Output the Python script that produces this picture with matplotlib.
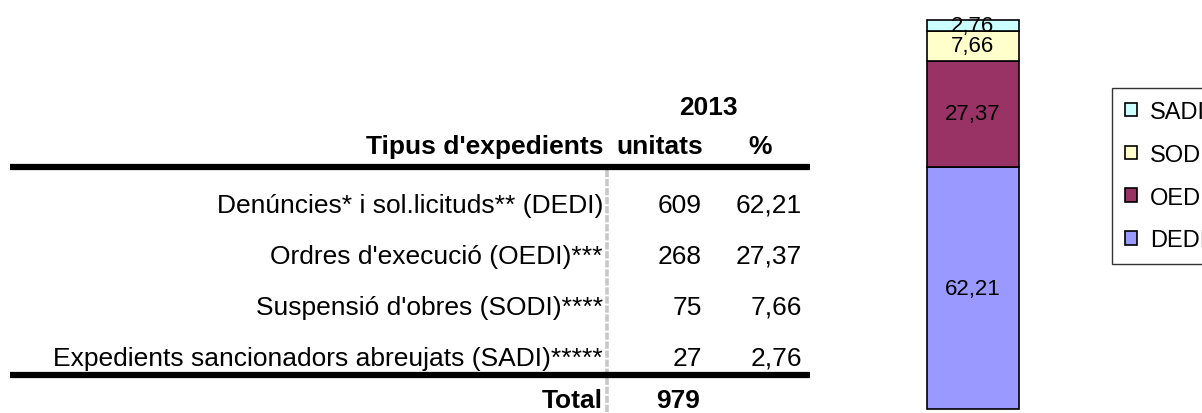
import matplotlib
matplotlib.use("Agg")
import matplotlib.pyplot as plt
from matplotlib.patches import Patch

plt.rcParams['font.family'] = ['Liberation Sans', 'DejaVu Sans']

# data
year = "2013"
tipus = ["Denúncies* i sol.licituds** (DEDI)",
         "Ordres d'execució (OEDI)***",
         "Suspensió d'obres (SODI)****",
         "Expedients sancionadors abreujats (SADI)*****"]
unitats = [609, 268, 75, 27]
percent = [62.21, 27.37, 7.66, 2.76]
total = 979
codes = ["DEDI", "OEDI", "SODI", "SADI"]
colors = ["#9999FF", "#993366", "#FFFFCC", "#CCFFFF"]

W, H = 1202, 414
fig = plt.figure(figsize=(W / 100, H / 100), dpi=100)

# table drawn in pixel space
ax = fig.add_axes([0, 0, 1, 1])
ax.set_xlim(0, W)
ax.set_ylim(H, 0)
ax.axis("off")

fs = 19
def fmt(v):
    return f"{v:.2f}".replace(".", ",")

ax.text(708, 115, year, ha="center", va="baseline", fontsize=fs, fontweight="bold")
ax.text(603, 154, "Tipus d'expedients", ha="right", va="baseline", fontsize=fs, fontweight="bold")
ax.text(660, 154, "unitats", ha="center", va="baseline", fontsize=fs, fontweight="bold")
ax.text(760, 154, "%", ha="center", va="baseline", fontsize=fs, fontweight="bold")
ax.plot([10, 810], [168, 168], color="black", lw=4.5, solid_capstyle="butt")

row_y = [213, 264, 315, 366]
for name, u, p, y in zip(tipus, unitats, percent, row_y):
    ax.text(603, y, name, ha="right", va="baseline", fontsize=fs)
    ax.text(702, y, str(u), ha="right", va="baseline", fontsize=fs)
    ax.text(802, y, fmt(p), ha="right", va="baseline", fontsize=fs)

ax.plot([10, 810], [376, 376], color="black", lw=4.5, solid_capstyle="butt")
ax.text(603, 408, "Total", ha="right", va="baseline", fontsize=fs, fontweight="bold")
ax.text(700, 408, str(total), ha="right", va="baseline", fontsize=fs, fontweight="bold")
ax.plot([607, 607], [171, H], color="#c8c8c8", lw=2.6, ls=(0, (2, 0.5)), zorder=0)

# stacked bar
bl, br, bt, bb = 927, 1019, 21, 410
m = 0.08
px_w = (br - bl) * (1 + 2 * m)
scale = (bb - bt) / 100.0
y0 = -(H - bb) / scale
bax = fig.add_axes([(bl - (br - bl) * m) / W, 0, px_w / W, 1])
bax.set_xlim(-0.5 - m, 0.5 + m)
bax.set_ylim(y0, y0 + H / scale)
bax.axis("off")

bottom = 0
for code, p, c in zip(codes, percent, colors):
    bax.bar(0, p, width=1, bottom=bottom, color=c, edgecolor="black", linewidth=1.2, label=code)
    bax.text(0, bottom + p / 2, fmt(p), ha="center", va="center", fontsize=16)
    bottom += p

handles = [Patch(facecolor=c, edgecolor="black", linewidth=1.2, label=code)
           for code, c in zip(codes, colors)][::-1]
leg = fig.legend(handles=handles, loc="upper left",
                 bbox_to_anchor=(1112 / W, 1 - 89 / H), borderaxespad=0,
                 fontsize=17, frameon=True, fancybox=False, edgecolor="black",
                 handlelength=0.5, handleheight=0.5, handletextpad=0.55,
                 labelspacing=0.88, borderpad=0.55)
leg.get_frame().set_linewidth(1.0)

fig.savefig("out.png", dpi=100)
